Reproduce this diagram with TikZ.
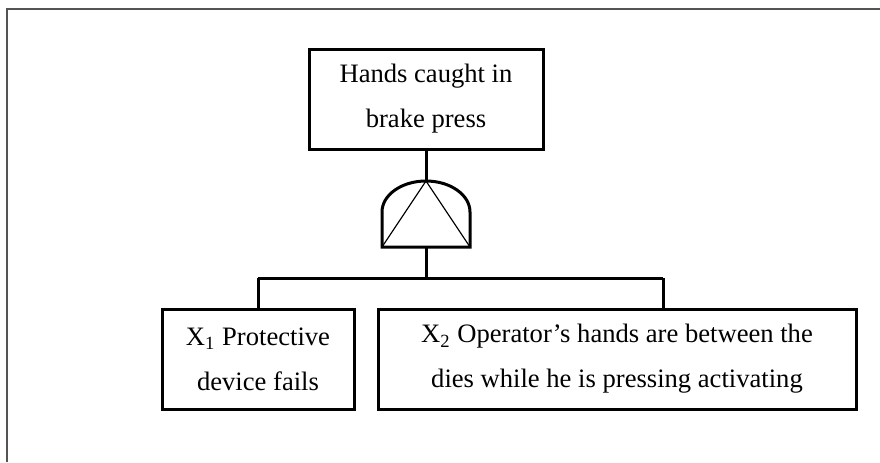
\documentclass[tikz,border=0pt]{standalone}
\usepackage{fontspec}
\setmainfont{Liberation Serif}
\usepackage{tikz}

\begin{document}
\begin{tikzpicture}[x=0.5pt,y=-0.5pt,line width=1.5pt,draw=black!100]
	\def \toplevel{99}
	\def \gatetop{181}
	\def \gateside{212}
	\def \gatebot{247}
	\def \barlevel{278}
	\def \basement{359}
	\tikzstyle{e-node}=[rectangle,draw=black!100,line width=1.5pt,inner sep=0pt,minimum height=50pt,align=center,font=\fontsize{13.3}{22.5}\selectfont]
	\tikzstyle{frame}=[draw=black!67,line width=1pt]
	\tikzstyle{thin}=[line width=0.6pt]
	\useasboundingbox (0,0) rectangle (880,462);
	% frame
	\draw[frame] (880,9) -- (7,9) -- (7,462);
	
	% top event
	\node[e-node,minimum width=117pt] 	(top)	at (426,\toplevel)	{Hands caught in\\brake press};
	
	% basic events
	\node[e-node,minimum width=96pt] 	(x1)	at (258,\basement)	{X\textsubscript{1} Protective\\device fails};
	\node[e-node,minimum width=239pt] 	(x2)	at (617,\basement)	{X\textsubscript{2} Operator’s hands are between the\\dies while he is pressing activating};
	
	% and gate
	\coordinate (g-top) at (426,\gatetop);
	\coordinate (g-bot) at (426,\gatebot);
	\draw (382,\gatebot) -- (382,\gateside) arc (180:0:22pt and 15.5pt) -- (470,\gatebot) -- cycle;
	\draw[thin] (382,\gatebot) -- (g-top) -- (470,\gatebot);
	
	% bar
	\coordinate (bar-l) at (258,\barlevel);
	\coordinate (bar-m) at (426,\barlevel);
	\coordinate (bar-r) at (663,\barlevel);
	\draw (bar-l) -- (bar-r);
	
	\path 
		(top)	edge	(g-top)
		(g-bot)	edge	(bar-m)
		(bar-l)	edge	(x1)
		(bar-r)	edge	(bar-r |- x2.north);
		
\end{tikzpicture}
\end{document}
